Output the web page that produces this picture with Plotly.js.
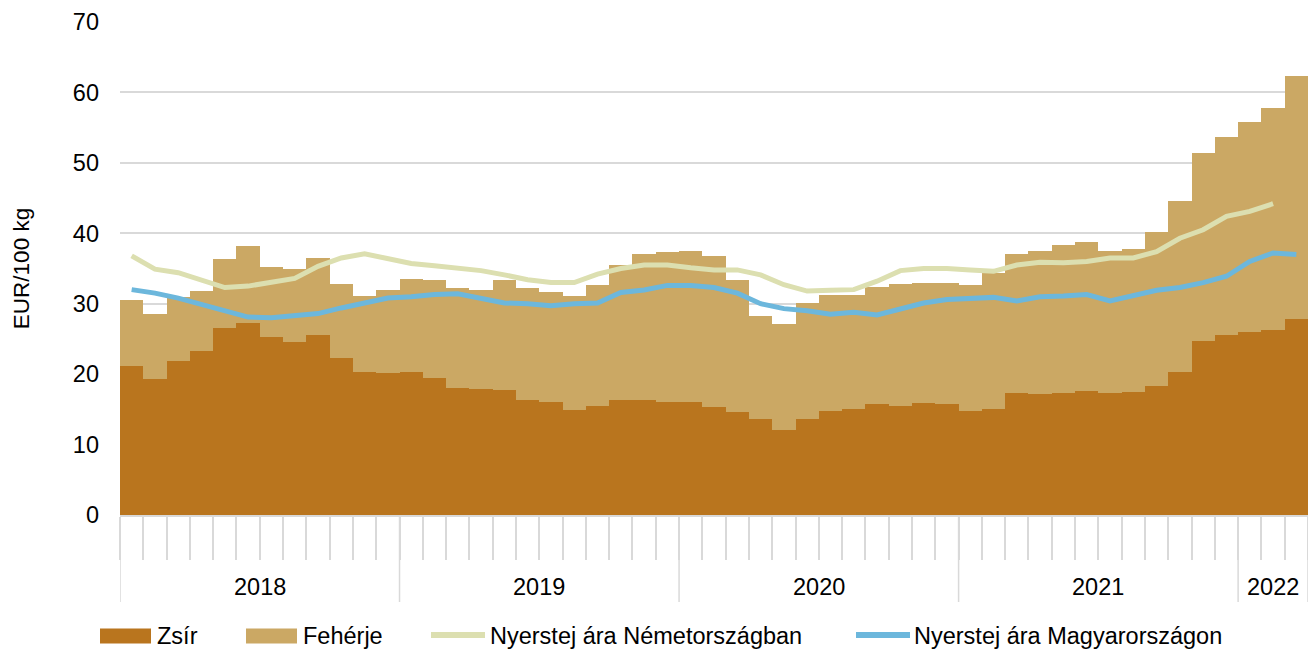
<!DOCTYPE html>
<html>
<head>
<meta charset="utf-8">
<script src="https://cdn.plot.ly/plotly-3.0.1.min.js"></script>
<style>html,body{margin:0;padding:0;background:#fff;}#chart{width:1308px;height:649px;}</style>
</head>
<body>
<div id="chart"></div>
<script>
// ---- data (EUR/100 kg), Jan 2018 – Mar 2022 ----
const years = ['2018', '2019', '2020', '2021', '2022'];
const monthsPerYear = [12, 12, 12, 12, 3];

const zsir = [
  21.2, 19.3, 21.9, 23.3, 26.5, 27.3, 25.3, 24.5, 25.5, 22.3, 20.3, 20.1,
  20.3, 19.4, 18.1, 17.9, 17.7, 16.4, 16.0, 14.9, 15.5, 16.4, 16.3, 16.0,
  16.0, 15.4, 14.6, 13.6, 12.0, 13.6, 14.8, 15.05, 15.7, 15.5, 15.95, 15.7,
  14.7, 15.05, 17.3, 17.2, 17.3, 17.6, 17.3, 17.5, 18.3, 20.3, 24.7, 25.5,
  26.0, 26.3, 27.8
];
const feherje = [
  9.3, 9.3, 9.0, 8.5, 9.8, 10.9, 9.9, 10.5, 11.0, 10.5, 10.8, 11.9,
  13.2, 14.0, 14.1, 14.0, 15.6, 15.9, 15.7, 16.2, 17.2, 19.1, 20.7, 21.3,
  21.5, 21.4, 18.8, 14.7, 15.1, 16.5, 16.5, 16.15, 16.7, 17.3, 16.95, 17.3,
  18.0, 19.25, 19.7, 20.3, 21.0, 21.2, 20.2, 20.3, 21.9, 24.3, 26.7, 28.2,
  29.8, 31.5, 34.6
];
const nemet = [
  36.8, 34.9, 34.4, 33.3, 32.3, 32.5, 33.0, 33.6, 35.3, 36.5, 37.1, 36.4,
  35.7, 35.4, 35.0, 34.7, 34.1, 33.4, 33.0, 33.0, 34.2, 35.0, 35.5, 35.5,
  35.1, 34.8, 34.8, 34.1, 32.7, 31.8, 31.9, 32.0, 33.2, 34.7, 35.0, 35.0,
  34.8, 34.6, 35.5, 35.9, 35.8, 36.0, 36.5, 36.5, 37.4, 39.3, 40.5, 42.4,
  43.1, 44.2, null
];
const magyar = [
  32.0, 31.5, 30.8, 29.9, 29.0, 28.1, 28.0, 28.3, 28.6, 29.4, 30.1, 30.8,
  31.0, 31.3, 31.4, 30.8, 30.1, 30.0, 29.7, 30.0, 30.1, 31.6, 31.95, 32.6,
  32.6, 32.3, 31.5, 30.0, 29.3, 29.0, 28.5, 28.8, 28.4, 29.25, 30.1, 30.6,
  30.8, 30.9, 30.4, 31.0, 31.1, 31.3, 30.4, 31.1, 31.9, 32.3, 33.0, 33.9,
  36.0, 37.2, 37.0
];
const seriesNames = ['Zsír', 'Fehérje', 'Nyerstej ára Németországban', 'Nyerstej ára Magyarországon'];
const yTitle = 'EUR/100 kg';

// ---- build ----
const monthLabels = [];
years.forEach((y, yi) => { for (let m = 1; m <= monthsPerYear[yi]; m++) monthLabels.push(y + '.' + String(m).padStart(2, '0')); });
const xs = monthLabels.map((_, i) => i);
const n = xs.length;

const FONT = 'Liberation Sans, Arial, sans-serif';
const FS = 23.5;
const colors = { zsir: '#B9751E', feherje: '#CBA864', nemet: '#DCDFB0', magyar: '#6CB7DC' };

const traces = [
  { type: 'bar', x: xs, y: zsir, name: seriesNames[0], text: monthLabels, hoverinfo: 'text+y+name', textposition: 'none',
    marker: { color: colors.zsir, line: { width: 0 } }, width: 1 },
  { type: 'bar', x: xs, y: feherje, name: seriesNames[1], text: monthLabels, hoverinfo: 'text+y+name', textposition: 'none',
    marker: { color: colors.feherje, line: { width: 0 } }, width: 1 },
  { type: 'scatter', mode: 'lines', x: xs, y: nemet, name: seriesNames[2],
    line: { color: colors.nemet, width: 5 } },
  { type: 'scatter', mode: 'lines', x: xs, y: magyar, name: seriesNames[3],
    line: { color: colors.magyar, width: 5 } }
];

// plot area in pixels
const L = 120, R = 1308, T = 22, B = 515;
const px = v => (v - L) / (R - L);
const py = v => (B - v) / (B - T);

const shapes = [];
const annotations = [];
// year separators and labels
let start = 0;
const bounds = [-0.5];
years.forEach((y, yi) => {
  const end = start + monthsPerYear[yi];
  bounds.push(end - 0.5);
  annotations.push({ x: (start + end - 1) / 2, xref: 'x', y: py(587), yref: 'paper', text: y, showarrow: false,
    xanchor: 'center', yanchor: 'middle', font: { family: FONT, size: FS, color: '#000' } });
  start = end;
});
bounds.forEach(b => shapes.push({ type: 'line', xref: 'x', yref: 'paper', x0: b, x1: b, y0: 0, y1: py(602),
  line: { color: '#D9D9D9', width: 1.5 } }));

// legend (drawn manually to match wide swatches)
const legY = 636;
const legendItems = [
  { kind: 'rect', color: colors.zsir, x0: 100, x1: 151, tx: 155, label: seriesNames[0] },
  { kind: 'rect', color: colors.feherje, x0: 246, x1: 297, tx: 301, label: seriesNames[1] },
  { kind: 'line', color: colors.nemet, x0: 431, x1: 485, tx: 488, label: seriesNames[2] },
  { kind: 'line', color: colors.magyar, x0: 856, x1: 910, tx: 912, label: seriesNames[3] }
];
legendItems.forEach(it => {
  if (it.kind === 'rect') {
    shapes.push({ type: 'rect', xref: 'paper', yref: 'paper', x0: px(it.x0), x1: px(it.x1), y0: py(legY + 7.5), y1: py(legY - 7.5),
      fillcolor: it.color, line: { width: 0 } });
  } else {
    shapes.push({ type: 'line', xref: 'paper', yref: 'paper', x0: px(it.x0), x1: px(it.x1), y0: py(legY - 1), y1: py(legY - 1),
      line: { color: it.color, width: 6 } });
  }
  annotations.push({ x: px(it.tx), xref: 'paper', y: py(legY), yref: 'paper', text: it.label, showarrow: false,
    xanchor: 'left', yanchor: 'middle', font: { family: FONT, size: FS, color: '#000' } });
});

const layout = {
  width: 1308, height: 649,
  margin: { l: L, r: 1308 - R, t: T, b: 649 - B, pad: 0 },
  paper_bgcolor: '#fff', plot_bgcolor: '#fff',
  barmode: 'stack', bargap: 0,
  showlegend: false,
  font: { family: FONT, size: FS, color: '#000' },
  xaxis: {
    range: [-0.5, n - 0.5], fixedrange: true,
    tickmode: 'array', tickvals: Array.from({ length: n + 1 }, (_, i) => i - 0.5),
    ticktext: Array.from({ length: n + 1 }, () => ''),
    ticks: 'outside', ticklen: 43, tickwidth: 1.5, tickcolor: '#D9D9D9',
    showgrid: false, zeroline: false,
    showline: true, linecolor: '#D9D9D9', linewidth: 1.5
  },
  yaxis: {
    range: [0, 70], dtick: 10, tick0: 0, fixedrange: true,
    showgrid: true, gridcolor: '#D9D9D9', gridwidth: 1.5,
    zeroline: false, ticks: '', ticklabelstandoff: 20,
    tickfont: { family: FONT, size: FS, color: '#000' },
    title: { text: yTitle, font: { family: FONT, size: 22.5, color: '#000' }, standoff: 36 }
  },
  shapes: shapes,
  annotations: annotations
};

Plotly.newPlot('chart', traces, layout, { displayModeBar: false });
</script>
</body>
</html>
